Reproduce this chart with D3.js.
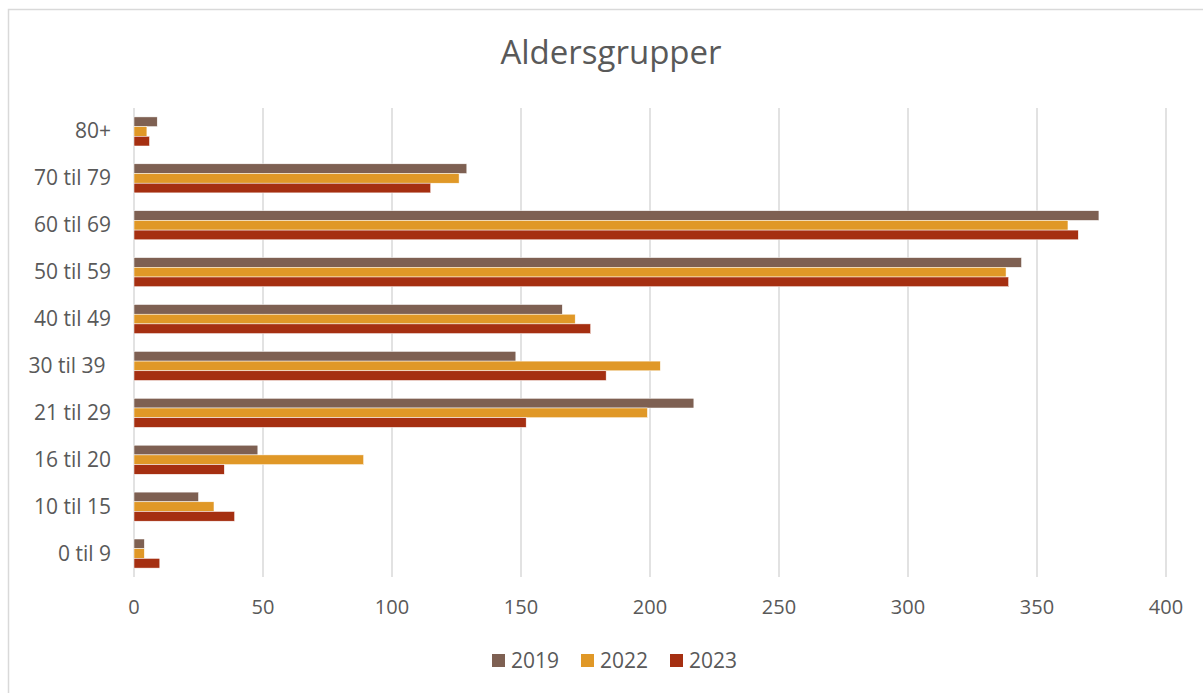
<!DOCTYPE html>
<meta charset="utf-8">
<style>

body {
  margin: 0;
  background: #fff;
}

text {
  font-family: "Open Sans", "Noto Sans", sans-serif;
  fill: #595959;
}

</style>
<body>
<script src="https://cdn.jsdelivr.net/npm/d3@7"></script>
<script>

var categories = ["0 til 9", "10 til 15", "16 til 20", "21 til 29", "30 til 39 ", "40 til 49", "50 til 59", "60 til 69", "70 til 79", "80+"];
var years = ["2019", "2022", "2023"];
var values2019 = [4, 25, 48, 217, 148, 166, 344, 374, 129, 9];
var values2022 = [4, 31, 89, 199, 204, 171, 338, 362, 126, 5];
var values2023 = [10, 39, 35, 152, 183, 177, 339, 366, 115, 6];
var xTicks = [0, 50, 100, 150, 200, 250, 300, 350, 400];
var colors = ["#7e6052", "#e09827", "#a52f11"];

var w = 1203,
    h = 693,
    plotLeft = 134,
    plotRight = 1166,
    plotTop = 108,
    plotBottom = 577;

var series = [values2019, values2022, values2023];

var svg = d3.select("body").append("svg")
    .attr("width", w)
    .attr("height", h);

// chart border
svg.append("rect")
    .attr("x", 8.5)
    .attr("y", 9.5)
    .attr("width", 1200)
    .attr("height", 700)
    .style("fill", "none")
    .style("stroke", "#d9d9d9")
    .style("stroke-width", 1.5);

svg.append("text")
    .attr("x", 611)
    .attr("y", 64)
    .attr("text-anchor", "middle")
    .style("font-size", "33px")
    .text("Aldersgrupper");

var x = d3.scaleLinear()
    .domain([0, 400])
    .range([plotLeft, plotRight]);

// top to bottom: 80+ first
var y = d3.scaleBand()
    .domain(categories.slice().reverse())
    .range([plotTop, plotBottom])
    .paddingInner(0.38)
    .paddingOuter(0.19);

var y1 = d3.scaleBand()
    .domain(years)
    .range([0, y.bandwidth()]);

svg.append("g").selectAll("line")
    .data(xTicks)
  .enter().append("line")
    .attr("x1", function(d) { return x(d); })
    .attr("x2", function(d) { return x(d); })
    .attr("y1", plotTop)
    .attr("y2", plotBottom)
    .style("stroke", "#d9d9d9")
    .style("stroke-width", 1.5);

svg.append("g").selectAll("text")
    .data(xTicks)
  .enter().append("text")
    .attr("x", function(d) { return x(d); })
    .attr("y", 614)
    .attr("text-anchor", "middle")
    .style("font-size", "20px")
    .text(function(d) { return d; });

svg.append("g").selectAll("text")
    .data(categories)
  .enter().append("text")
    .attr("x", 111)
    .attr("y", function(d) { return y(d) + y.bandwidth() / 2 + 7; })
    .attr("text-anchor", "end")
    .style("font-size", "21px")
    .style("white-space", "pre")
    .text(function(d) { return d; });

var groups = svg.append("g").selectAll("g")
    .data(years)
  .enter().append("g")
    .style("fill", function(d, i) { return colors[i]; });

groups.selectAll("rect")
    .data(function(d, i) {
      return categories.map(function(c, j) { return {cat: c, year: d, value: series[i][j]}; });
    })
  .enter().append("rect")
    .attr("x", x(0))
    .attr("y", function(d) { return y(d.cat) + y1(d.year); })
    .attr("width", function(d) { return x(d.value) - x(0); })
    .attr("height", y1.bandwidth())
    .style("stroke", "#fff")
    .style("stroke-width", .5);

// legend
var legendX = [492, 581, 670];
var legend = svg.append("g").selectAll("g")
    .data(years)
  .enter().append("g")
    .attr("transform", function(d, i) { return "translate(" + legendX[i] + ",654)"; });

legend.append("rect")
    .attr("width", 13)
    .attr("height", 13)
    .style("fill", function(d, i) { return colors[i]; });

legend.append("text")
    .attr("x", 19)
    .attr("y", 14)
    .style("font-size", "21px")
    .text(function(d) { return d; });

</script>
